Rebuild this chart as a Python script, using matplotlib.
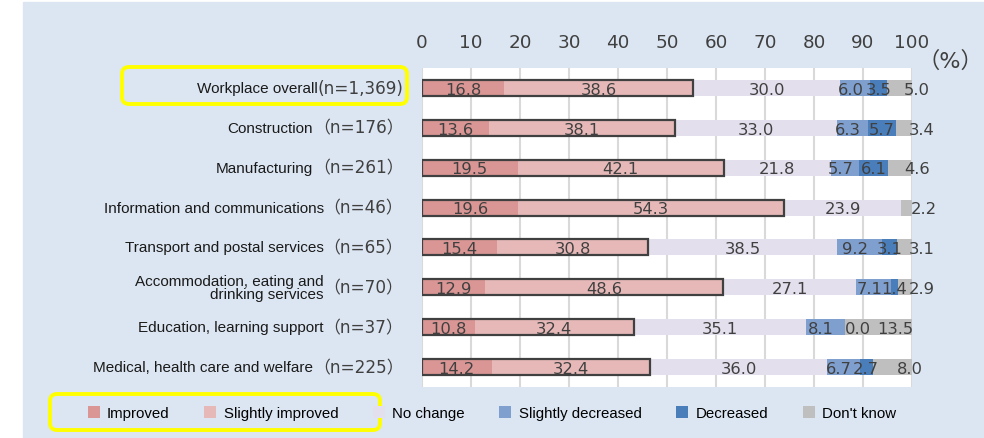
import numpy as np
import matplotlib.pyplot as plt
from matplotlib.patches import Rectangle, FancyBboxPatch, Patch
from matplotlib.transforms import IdentityTransform, blended_transform_factory

# Share of respondents by workplace type (%)
categories = ["Workplace overall", "Construction", "Manufacturing",
              "Information and communications", "Transport and postal services",
              "Accommodation, eating and\ndrinking services",
              "Education, learning support", "Medical, health care and welfare"]
n_labels = ["(n=1,369)", "（n=176）", "（n=261）", "（n=46）", "（n=65）",
            "（n=70）", "（n=37）", "（n=225）"]

improved = [16.8, 13.6, 19.5, 19.6, 15.4, 12.9, 10.8, 14.2]
slightly_improved = [38.6, 38.1, 42.1, 54.3, 30.8, 48.6, 32.4, 32.4]
no_change = [30.0, 33.0, 21.8, 23.9, 38.5, 27.1, 35.1, 36.0]
slightly_decreased = [6.0, 6.3, 5.7, np.nan, 9.2, 7.1, 8.1, 6.7]
decreased = [3.5, 5.7, 6.1, np.nan, 3.1, 1.4, 0.0, 2.7]
dont_know = [5.0, 3.4, 4.6, 2.2, 3.1, 2.9, 13.5, 8.0]

series = [("Improved", improved, "#D99694"),
          ("Slightly improved", slightly_improved, "#E6B9B8"),
          ("No change", no_change, "#E4DFEC"),
          ("Slightly decreased", slightly_decreased, "#7F9FCF"),
          ("Decreased", decreased, "#4A7EBB"),
          ("Don't know", dont_know, "#BFBFBF")]

W, H = 984, 439
fig = plt.figure(figsize=(W / 100, H / 100), dpi=100)
fig.patches.append(Rectangle((23 / W, 0), 1, (H - 3) / H, transform=fig.transFigure,
                             color="#DCE6F2", zorder=-10))

ax = fig.add_axes([422 / W, 1 - 388 / H, 490 / W, 319 / H])
ax.set_facecolor("white")
ax.set_xlim(0, 100)
ax.set_ylim(7.5, -0.5)
for s in ax.spines.values():
    s.set_visible(False)

y = np.arange(len(categories))
left = np.zeros(len(categories))
for name, vals, color in series:
    v = np.array(vals, dtype=float)
    w = np.nan_to_num(v)
    ax.barh(y, w, left=left, height=0.4, color=color, zorder=2)
    for i in range(len(y)):
        if np.isnan(v[i]):
            continue
        xc = left[i] + w[i] / 2
        ha = "center"
        if name == "Don't know":
            xc += 3.5
        elif name == "Slightly decreased":
            xc -= 0.9
        elif w[i] == 0:
            ha = "left"
        ax.text(xc, y[i] + 0.03, f"{v[i]:.1f}", ha=ha, va="center", fontsize=11.8,
                color="#404040", zorder=4, clip_on=False)
    left += w

# outline around the two "improved" segments
ax.barh(y, np.array(improved) + np.array(slightly_improved), height=0.4, fill=False,
        edgecolor="#404040", linewidth=1.6, zorder=3)

ax.xaxis.tick_top()
ax.set_xticks(range(0, 101, 10))
ax.tick_params(axis="x", length=0, pad=12, labelsize=13.2, labelcolor="#404040")
ax.set_yticks([])
ax.grid(axis="x", color="#D9D9D9", linewidth=1.5, zorder=0)
ax.set_axisbelow(True)

fig.text(950 / W, 1 - 61 / H, "（%）", ha="center", va="center", fontsize=16,
         color="#404040", family=["DejaVu Sans", "Noto Sans CJK JP"])

trans = blended_transform_factory(ax.transAxes, ax.transData)
for i, (cat, nl) in enumerate(zip(categories, n_labels)):
    nt = ax.text(-0.038, y[i], nl, transform=trans, ha="right", va="center",
                 fontsize=12.2, color="#404040", family=["DejaVu Sans", "Noto Sans CJK JP"])
    ax.annotate(cat, xy=(0, 0.5), xycoords=nt, ha="right", va="center",
                fontsize=11, color="#1a1a1a", family="Liberation Sans",
                multialignment="right", linespacing=0.95)

handles = [Patch(facecolor=c, edgecolor="none") for _, _, c in series]
fig.legend(handles, [s[0] for s in series], loc="center", bbox_to_anchor=(0.5, 1 - 414 / H),
           ncol=6, frameon=False, handlelength=0.8, handleheight=0.8, handletextpad=0.5,
           columnspacing=2.3, prop={"family": "Liberation Sans", "size": 10.8})

# yellow highlight boxes
for (bx, by, bw, bh) in [(122, H - 105, 285, 37), (50, H - 431, 330, 36)]:
    fig.patches.append(FancyBboxPatch((bx, by), bw, bh, boxstyle="round,pad=0,rounding_size=7",
                                      transform=IdentityTransform(), fill=False,
                                      edgecolor="#FFFF00", linewidth=2.8, zorder=5))

fig.savefig("out.png", dpi=100)
